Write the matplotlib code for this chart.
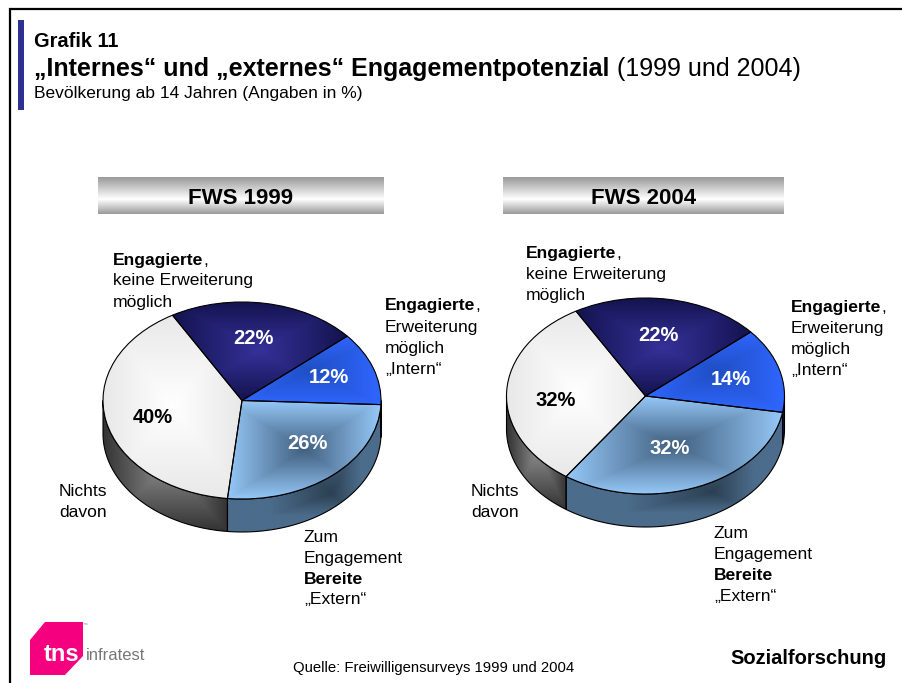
import numpy as np
import matplotlib
matplotlib.use("Agg")
import matplotlib.pyplot as plt
from matplotlib.patches import Polygon, Rectangle

plt.rcParams["font.family"] = ["Liberation Sans", "DejaVu Sans"]

# data
segments = ["Engagierte keine Erweiterung", "Engagierte Erweiterung", "Zum Engagement Bereite", "Nichts davon"]
values_1999 = [22, 12, 26, 40]
values_2004 = [22, 14, 32, 32]
pct_colors = ["white", "white", "white", "black"]
W, H = 902, 683

face_center = ["#35319a", "#1f4fc4", "#41607f", "#ffffff"]
face_edge = ["#13134e", "#2f66ff", "#96c8f8", "#e8e8e8"]

fig = plt.figure(figsize=(9.02, 6.83), dpi=100, facecolor="white")
bg = fig.add_axes([0, 0, 1, 1])
bg.set_xlim(0, W)
bg.set_ylim(H, 0)
bg.set_axis_off()


def txt(x, y, s, size=12.6, bold=False, color="black", **kw):
    return fig.text(x / W, 1 - y / H, s, fontsize=size, color=color,
                    fontweight="bold" if bold else "normal", va="baseline", **kw)


def rich(x, y, parts, size=12.6):
    # bold and normal pieces on one line
    for s, b in parts:
        t = txt(x, y, s, size=size, bold=b)
        x = t.get_window_extent(fig.canvas.get_renderer()).x1


def gradient(c_center, c_edge, fx=0.5, fy=0.5, scale=1.0):
    # rectangular path gradient, dark or light towards a middle point
    xs, ys = np.meshgrid(np.linspace(0, 1, 240), np.linspace(0, 1, 240))
    dx = np.where(xs < fx, (fx - xs) / fx, (xs - fx) / (1 - fx))
    dy = np.where(ys < fy, (fy - ys) / fy, (ys - fy) / (1 - fy))
    t = np.clip(np.maximum(dx, dy) * scale, 0, 1)[..., None]
    a = np.array(matplotlib.colors.to_rgb(c_center))
    b = np.array(matplotlib.colors.to_rgb(c_edge))
    return a * (1 - t) + b * t


def pie3d(values, cx, cy, rx, ry, depth):
    d = depth / ry
    margin = 3
    ax = fig.add_axes([(cx - rx - margin) / W, 1 - (cy + ry + depth + margin) / H,
                       (2 * rx + 2 * margin) / W, (2 * ry + depth + 2 * margin) / H], zorder=2)
    wedges, _ = ax.pie(values, startangle=120, counterclock=False, radius=1,
                       colors=face_edge, wedgeprops=dict(linewidth=0.8, edgecolor="black"))
    ax.set_aspect("auto")

    # side wall
    side_center = ["#13134e", "#13134e", "#2c4052", "#8a8a8a"]
    side_edge = ["#0a0a40", "#10104a", "#4c6c8c", "#333333"]
    side_args = [(0.5, 0.5, 1.0), (0.5, 0.5, 1.0), (0.68, 0.3, 1.7), (0.5, 0.5, 1.0)]
    for i, w in enumerate(wedges):
        a0 = (w.theta1 % 360)
        a1 = a0 + (w.theta2 - w.theta1)
        lo = max(a0, 180)
        hi = min(a1, 360)
        if hi <= lo:
            lo, hi = max(a0 - 360, 180), min(a1 - 360, 360)
            if hi <= lo:
                continue
        ang = np.radians(np.linspace(lo, hi, 80))
        top = np.c_[np.cos(ang), np.sin(ang)]
        bot = top[::-1] - [0, d]
        poly = Polygon(np.r_[top, bot], closed=True, fc="none", ec="black", lw=0.8, zorder=4)
        ax.add_patch(poly)
        pts = np.r_[top, bot]
        x0, x1, y0, y1 = pts[:, 0].min(), pts[:, 0].max(), pts[:, 1].min(), pts[:, 1].max()
        fx, fy, sc = side_args[i]
        img = ax.imshow(gradient(side_center[i], side_edge[i], fx, fy, sc),
                        extent=(x0, x1, y0, y1), origin="lower", aspect="auto", zorder=3)
        img.set_clip_path(poly)

    # top faces
    for i, w in enumerate(wedges):
        ext = w.get_path().transformed(w.get_patch_transform()).get_extents()
        img = ax.imshow(gradient(face_center[i], face_edge[i]),
                        extent=(ext.x0, ext.x1, ext.y0, ext.y1), origin="lower", aspect="auto", zorder=5)
        img.set_clip_path(w)
        w.set_facecolor("none")
        w.set_zorder(6)

    ax.set_xlim(-1 - margin / rx, 1 + margin / rx)
    ax.set_ylim(-1 - d - margin / ry, 1 + margin / ry)
    ax.set_axis_off()
    return ax


# frame
bg.plot([10, 10, W], [H, 9, 9], color="black", lw=1.6, solid_joinstyle="miter")
bg.add_patch(Rectangle((18, 20), 6, 90, fc="#2e3192", ec="none"))

# header text
txt(34, 47, "Grafik 11", size=14.4, bold=True)
txt(34, 76, "„Internes“ und „externes“ Engagementpotenzial", size=18.0, bold=True)
txt(617, 76, "(1999 und 2004)", size=18.0)
txt(34, 98, "Bevölkerung ab 14 Jahren (Angaben in %)", size=12.5)

# grey header bars
for x0, x1, label in [(98, 384, "FWS 1999"), (503, 784, "FWS 2004")]:
    bar = gradient("#ffffff", "#999999", 0.5, 0.6)[:, [120]]
    bg.imshow(bar, extent=(x0, x1, 214, 177), aspect="auto", zorder=1)
    txt((x0 + x1) / 2, 204, label, size=16, bold=True, ha="center")
bg.set_xlim(0, W)
bg.set_ylim(H, 0)

pie3d(values_1999, 242, 400.5, 139, 98.5, 33)
pie3d(values_2004, 645.5, 396, 139, 98, 33)

# percent labels
for v, col, (x, y) in zip(values_1999, pct_colors, [(253, 344), (329, 383), (307, 449), (153, 423)]):
    txt(x, y, f"{v}%", size=14.5, bold=True, color=col, ha="center", zorder=10)
for v, col, (x, y) in zip(values_2004, pct_colors, [(658, 341), (731, 385), (670, 454), (556, 406)]):
    txt(x, y, f"{v}%", size=14.5, bold=True, color=col, ha="center", zorder=10)

# segment labels 1999
rich(113, 265, [("Engagierte", True), (",", False)])
txt(113, 285, "keine Erweiterung")
txt(113, 307, "möglich")
rich(385, 310, [("Engagierte", True), (",", False)])
txt(385, 332, "Erweiterung")
txt(385, 353, "möglich")
txt(385, 374, "„Intern“")
txt(59, 496, "Nichts")
txt(59, 517, "davon")
txt(304, 542, "Zum")
txt(304, 563, "Engagement")
txt(304, 584, "Bereite", bold=True)
txt(304, 604, "„Extern“")

# segment labels 2004
rich(526, 258, [("Engagierte", True), (",", False)])
txt(526, 279, "keine Erweiterung")
txt(526, 300, "möglich")
rich(791, 312, [("Engagierte", True), (",", False)])
txt(791, 333, "Erweiterung")
txt(791, 354, "möglich")
txt(791, 375, "„Intern“")
txt(471, 496, "Nichts")
txt(471, 517, "davon")
txt(714, 538, "Zum")
txt(714, 559, "Engagement")
txt(714, 580, "Bereite", bold=True)
txt(714, 601, "„Extern“")

# footer
txt(293, 672, "Quelle: Freiwilligensurveys 1999 und 2004", size=10.75)
txt(730, 664, "Sozialforschung", size=14.5, bold=True)

# logo
bg.add_patch(Polygon([(30, 640), (45, 622), (83, 622), (83, 656), (65, 675), (30, 675)],
                     closed=True, fc="#f5007f", ec="none"))
txt(44, 661, "tns", size=17, bold=True, color="white")
txt(86, 660, "infratest", size=12, color="#777777")
txt(83, 625, "™", size=3.5, color="#888888")

fig.savefig("out.png", dpi=100)
